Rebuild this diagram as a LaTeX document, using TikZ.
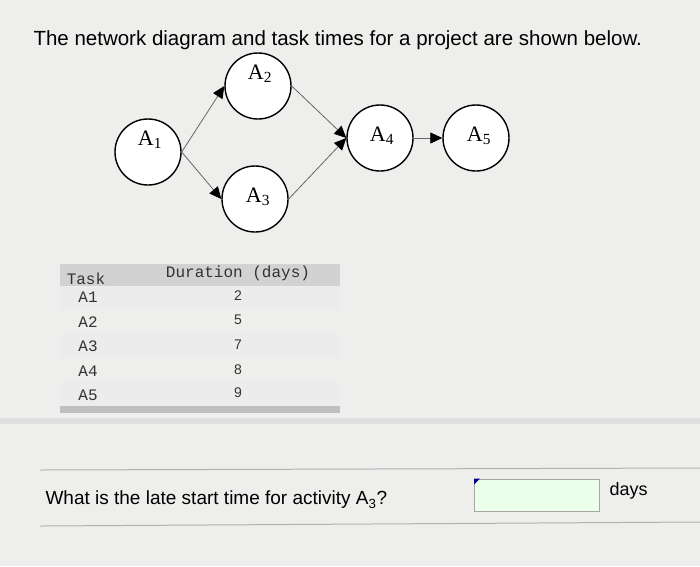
\documentclass[tikz,border=0pt]{standalone}
\usepackage{fontspec}
\setmainfont{Liberation Sans}
\newfontfamily\monof{Liberation Mono}
\newfontfamily\serf{Liberation Serif}
\usetikzlibrary{arrows.meta}
\definecolor{bg}{HTML}{EEEEEC}
\begin{document}
\begin{tikzpicture}[x=1pt,y=-1pt,
  act/.style={draw,line width=1.4pt,fill=white,circle,minimum size=66pt,inner sep=0pt},
  lab/.style={font=\fontsize{22}{22}\selectfont\serf},
  con/.style={draw=gray!80!black,line width=0.8pt,-{Triangle[length=12pt,width=11pt,black]}},
  cell/.style={font=\fontsize{16}{16}\selectfont\monof,text=black!80},
  num/.style={font=\fontsize{14}{14}\selectfont,text=black!80}]
\useasboundingbox (0,0) rectangle (700,566);
\fill[bg] (0,0) rectangle (700,566);
\node[anchor=west,font=\fontsize{20.5}{20.5}\selectfont] (title) at (30,40) {The network diagram and task times for a project are shown below.};
\node[act] (a1) at (148,152) {};
\node[act] (a2) at (258,86) {};
\node[act] (a3) at (255,199) {};
\node[act] (a4) at (380,138) {};
\node[act] (a5) at (476,138) {};
\node[lab] (t1) at (150,140) {A\textsubscript{1}};
\node[lab] (t2) at (260,74) {A\textsubscript{2}};
\node[lab] (t3) at (258,197) {A\textsubscript{3}};
\node[lab] (t4) at (382,136) {A\textsubscript{4}};
\node[lab] (t5) at (479,136) {A\textsubscript{5}};
\draw[con] (a1.east) -- (a2.west);
\draw[con] (a1.east) -- (a3.west);
\draw[con] (a2.east) -- (a4.west);
\draw[con] (a3.east) -- (a4.west);
\draw[con] (a4.east) -- (a5.west);
% table
\fill[gray!35] (60,264) rectangle (340,286);
\foreach \y in {286,334,382}{\fill[white!85!gray] (60,\y) rectangle (340,\y+24);}
\fill[gray!50] (60,406) rectangle (340,413);
\fill[gray!25] (0,418) rectangle (700,424);
\node[cell] (h1) at (86,279) {Task};
\node[cell] (h2) at (238,273) {Duration (days)};
\node[cell] (r1) at (88,297) {A1};  \node[num] (d1) at (238,296) {2};
\node[cell] (r2) at (88,322) {A2};  \node[num] (d2) at (238,320) {5};
\node[cell] (r3) at (88,346) {A3};  \node[num] (d3) at (238,345) {7};
\node[cell] (r4) at (88,371) {A4};  \node[num] (d4) at (238,370) {8};
\node[cell] (r5) at (88,395) {A5};  \node[num] (d5) at (238,393) {9};
% question
\draw[gray!60,line width=1pt] (40,470) -- (700,468);
\draw[gray!60,line width=1pt] (40,526) -- (700,522);
\node[anchor=west,font=\fontsize{19}{19}\selectfont] (q) at (42,500) {What is the late start time for activity A\textsubscript{3}?};
\node[draw=gray!70,line width=1pt,fill=green!8!white,minimum width=125pt,minimum height=32pt,inner sep=0pt] (box) at (537,495) {};
\fill[blue!60!black] (box.north west) -- ++(6,0) -- ++(-6,6) -- cycle;
\node[anchor=west,font=\fontsize{18}{18}\selectfont] (days) at (606,491) {days};
\end{tikzpicture}
\end{document}
